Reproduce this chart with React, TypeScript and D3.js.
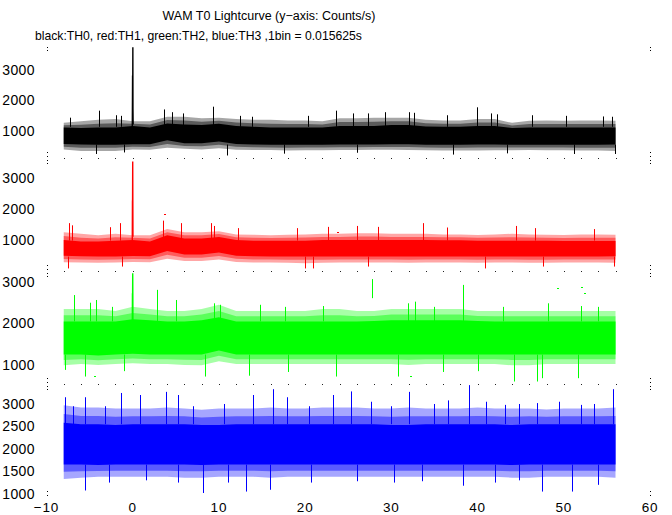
import React from "react";
import * as d3 from "d3";

// ---------- data ----------
// envelope samples every 2 s, t = -8 .. 56
const tSamples = d3.range(-8, 57, 2);
const xTickValues = [-10, 0, 10, 20, 30, 40, 50, 60];
const minorTickTimes = d3.range(-8, 57, 2);

// TH0 (black)
const th0CoreHi = [1100,1080,1100,1100,1150,1100,1230,1200,1180,1220,1150,1120,1100,1100,1100,1100,1150,1150,1150,1180,1180,1130,1120,1120,1150,1150,1080,1100,1100,1100,1100,1100,1100];
const th0CoreLo = [560,540,530,530,550,550,680,580,580,640,560,540,530,530,530,530,540,540,540,550,550,530,530,530,540,540,530,530,530,530,530,530,540];
const th0EdgeHi = [1250,1300,1350,1380,1300,1300,1450,1450,1400,1420,1380,1350,1350,1330,1330,1300,1400,1400,1420,1420,1420,1350,1330,1330,1380,1380,1250,1320,1330,1320,1330,1330,1320];
const th0EdgeLo = [380,330,330,330,380,370,430,400,380,420,370,360,360,340,350,350,360,360,370,370,360,350,340,340,340,350,350,360,350,350,340,340,330];
const th0SpikesHi: [number, number][] = [[-7.3,1420],[-3.9,1650],[-1.9,1500],[-1.4,1480],[3.6,1690],[4.6,1600],[5.8,1560],[9.3,1780],[12.5,1480],[13.8,1450],[20.3,1480],[23.6,1650],[25.5,1560],[27.3,1560],[29.3,1600],[32.0,1600],[32.6,1580],[36.4,1500],[39.9,1760],[41.5,1560],[42.2,1530],[46.3,1500],[50.2,1480],[54.5,1460],[55.6,1450]];
const th0SpikesLo: [number, number][] = [[-4.3,230],[-1.0,280],[10.9,180],[17.6,240],[26.0,270],[37.1,210],[43.4,250],[51.2,230],[55.9,230]];
const th0Burst: [number, number][] = [[-0.05,1100],[-0.03,2000],[-0.016,2800],[0,2200],[0.016,3730],[0.03,1700],[0.05,1200]];
const th0Ticks = [1000, 2000, 3000];
const th0Domain = [98, 3803];

// TH1 (red)
const th1CoreHi = [1000,950,950,980,1000,950,1150,1050,1050,1100,1000,980,980,980,980,1000,1000,1000,1000,1000,1000,1000,990,990,980,980,980,980,980,970,970,970,970];
const th1CoreLo = [500,480,470,470,490,480,650,540,540,600,500,480,470,470,470,470,470,470,470,470,470,470,470,470,470,470,470,470,470,470,470,470,480];
const th1EdgeHi = [1250,1200,1150,1200,1150,1150,1350,1250,1250,1280,1180,1170,1150,1170,1180,1200,1200,1220,1220,1200,1200,1200,1180,1180,1160,1180,1200,1180,1170,1160,1180,1180,1170];
const th1EdgeLo = [290,280,270,280,300,290,400,330,330,380,300,280,280,270,260,270,280,280,280,280,270,280,280,280,270,280,280,270,270,280,280,280,270];
const th1SpikesHi: [number, number][] = [[-7.4,1540],[-7.0,1470],[-2.6,1410],[-1.5,1540],[3.5,1620],[5.6,1540],[9.1,1540],[9.4,1450],[12.2,1380],[19.0,1380],[22.6,1420],[26.0,1450],[28.5,1420],[33.7,1540],[36.5,1400],[44.4,1450],[46.7,1380],[53.5,1350]];
const th1SpikesLo: [number, number][] = [[-7.5,90],[-1.3,150],[20.0,90],[20.9,90],[27.3,150],[40.9,90],[47.6,150],[55.8,150]];
const th1Burst: [number, number][] = [[-0.05,1000],[-0.03,2230],[-0.016,2300],[0,3510],[0.016,2000],[0.03,1100]];
const th1Dots: [number, number][] = [[3.6,1838],[23.7,1270]];
const th1Ticks = [1000, 2000, 3000];
const th1Domain = [8, 3624];

// TH2 (green)
const th2CoreHi = [2050,2050,2050,2050,2100,2080,2050,2050,2080,2150,2050,2050,2050,2050,2050,2050,2050,2050,2060,2080,2080,2080,2080,2080,2060,2050,2050,2050,2050,2050,2050,2050,2050];
const th2CoreLo = [1250,1250,1230,1250,1270,1250,1250,1250,1250,1350,1250,1250,1250,1250,1250,1250,1250,1250,1250,1250,1250,1250,1250,1250,1250,1250,1250,1250,1250,1250,1250,1250,1250];
const th2EdgeHi = [2350,2350,2350,2300,2400,2350,2300,2300,2350,2450,2300,2300,2300,2300,2300,2350,2350,2300,2300,2350,2350,2350,2350,2350,2300,2300,2300,2300,2300,2300,2300,2300,2300];
const th2EdgeLo = [990,1020,1000,1020,1040,1020,1020,1000,990,1090,1020,1020,1020,1020,1020,1020,1020,1020,1020,1020,1000,1020,1020,1020,1020,1020,990,990,1020,1020,1020,1020,1020];
const th2SpikesHi: [number, number][] = [[-6.8,2685],[-5.0,2500],[-4.3,2566],[-2.4,2400],[2.8,2810],[5.0,2566],[9.4,2486],[10.1,2450],[14.8,2450],[17.7,2400],[22.1,2420],[31.9,2486],[32.7,2526],[35.0,2400],[38.3,2930],[43.0,2400],[48.2,2486],[52.0,2420],[54.0,2400]];
const th2SpikesLo: [number, number][] = [[-7.8,880],[-5.5,720],[-1.0,850],[8.4,720],[13.5,740],[18.0,830],[23.6,720],[30.8,720],[36.0,830],[40.0,850],[44.2,600],[46.9,600],[47.5,680],[51.6,680]];
const th2Burst: [number, number][] = [[-0.05,1900],[-0.03,2730],[-0.016,2490],[0,3210],[0.016,2600],[0.03,1900]];
const th2Segments: [number, number, number][] = [[27.8,2610,3070]];
const th2Dots: [number, number][] = [[49.2,2850],[52.0,2870],[52.4,2740],[-4.5,730],[32.2,730]];
const th2Ticks = [1000, 2000, 3000];
const th2Domain = [540, 3265];

// TH3 (blue)
const th3CoreHi = [2580,2550,2550,2530,2550,2550,2550,2550,2530,2530,2550,2550,2550,2550,2550,2550,2550,2550,2550,2530,2530,2550,2550,2550,2550,2550,2530,2550,2550,2550,2550,2550,2550];
const th3CoreLo = [1650,1650,1640,1650,1650,1650,1650,1650,1640,1650,1650,1650,1650,1650,1650,1650,1650,1650,1650,1650,1650,1650,1650,1650,1650,1650,1640,1650,1650,1650,1650,1650,1650];
const th3EdgeHi = [2970,2920,2920,2900,2900,2900,2920,2900,2870,2900,2900,2900,2920,2900,2900,2920,2920,2920,2900,2900,2920,2900,2900,2900,2920,2900,2900,2900,2880,2900,2900,2900,2920];
const th3EdgeLo = [1330,1360,1380,1380,1380,1380,1380,1360,1360,1380,1380,1380,1360,1380,1380,1380,1380,1380,1380,1380,1380,1380,1380,1380,1380,1380,1360,1360,1380,1380,1380,1380,1360];
const th3SpikesHi: [number, number][] = [[-7.8,3150],[-6.9,2950],[-5.5,3150],[-3.2,2950],[-1.4,3245],[0.9,3200],[3.9,3270],[5.2,3200],[7.0,2950],[10.6,3000],[13.9,3200],[16.3,3330],[17.9,3150],[20.5,2950],[23.2,3200],[25.3,3280],[27.6,3050],[30.0,2950],[32.1,3270],[35.0,3000],[36.6,3080],[39.0,3420],[41.0,3050],[43.2,2980],[44.8,3000],[46.9,3020],[49.5,3050],[52.0,2980],[53.5,3000],[55.7,3330]];
const th3SpikesLo: [number, number][] = [[-5.5,1074],[-2.8,1250],[1.5,1300],[5.3,1250],[8.1,1018],[11.0,1250],[13.1,1050],[15.9,1090],[20.7,1250],[26.0,1280],[30.3,1250],[33.5,1280],[38.3,1180],[42.0,1250],[44.8,1300],[47.5,1050],[51.0,1050],[54.0,1200]];
const th3Ticks = [1000, 1500, 2000, 2500, 3000];
const th3Domain = [929, 3445];

const titleText = "WAM T0 Lightcurve (y\u2212axis: Counts/s)";
const subtitleText = "black:TH0, red:TH1, green:TH2, blue:TH3 ,1bin = 0.015625s";

// ---------- layout ----------
const W = 672;
const H = 515;
const panelTops = [45, 158, 271, 384];
const panelH = 113;
const FONT = "'Liberation Sans', Arial, Helvetica, sans-serif";

type Series = {
  color: string;
  coreHi: number[]; coreLo: number[]; edgeHi: number[]; edgeLo: number[];
  spikesHi: [number, number][]; spikesLo: [number, number][];
  burst: [number, number][];
  dots: [number, number][];
  segments: [number, number, number][];
  ticks: number[]; domain: number[];
};

const seriesList: Series[] = [
  { color: "#000000", coreHi: th0CoreHi, coreLo: th0CoreLo, edgeHi: th0EdgeHi, edgeLo: th0EdgeLo, spikesHi: th0SpikesHi, spikesLo: th0SpikesLo, burst: th0Burst, dots: [], segments: [], ticks: th0Ticks, domain: th0Domain },
  { color: "#ff0000", coreHi: th1CoreHi, coreLo: th1CoreLo, edgeHi: th1EdgeHi, edgeLo: th1EdgeLo, spikesHi: th1SpikesHi, spikesLo: th1SpikesLo, burst: th1Burst, dots: th1Dots, segments: [], ticks: th1Ticks, domain: th1Domain },
  { color: "#00ff00", coreHi: th2CoreHi, coreLo: th2CoreLo, edgeHi: th2EdgeHi, edgeLo: th2EdgeLo, spikesHi: th2SpikesHi, spikesLo: th2SpikesLo, burst: th2Burst, dots: th2Dots, segments: th2Segments, ticks: th2Ticks, domain: th2Domain },
  { color: "#0000ff", coreHi: th3CoreHi, coreLo: th3CoreLo, edgeHi: th3EdgeHi, edgeLo: th3EdgeLo, spikesHi: th3SpikesHi, spikesLo: th3SpikesLo, burst: [], dots: [], segments: [], ticks: th3Ticks, domain: th3Domain },
];

const x = d3.scaleLinear().domain([-10, 60]).range([46.5, 650]);
const px = (t: number) => Math.round(x(t)) + 0.5;

function Panel({ s, i }: { s: Series; i: number }) {
  const top = panelTops[i];
  const bottom = top + panelH;
  const y = d3.scaleLinear().domain(s.domain).range([bottom, top]);

  const band = (hi: number[], lo: number[]) =>
    d3.area<number>()
      .x((t) => x(t))
      .y0((_, k) => y(lo[k]))
      .y1((_, k) => y(hi[k]))
      .curve(d3.curveLinear)(tSamples) || "";

  // inner half of each fringe is denser than the outer half
  const midHi = s.coreHi.map((v, k) => (v + s.edgeHi[k]) / 2);
  const midLo = s.coreLo.map((v, k) => (v + s.edgeLo[k]) / 2);

  const baseHi = y(d3.median(s.coreHi) as number);
  const baseLo = y(d3.median(s.coreLo) as number);
  const burstLine = s.burst.length
    ? d3.line<[number, number]>().x((d) => x(d[0])).y((d) => y(d[1]))(s.burst) || ""
    : "";
  const xl = Math.round(x(-10));
  const xr = Math.round(x(60));

  return (
    <g>
      <path d={band(s.edgeHi, s.edgeLo)} fill={s.color} fillOpacity={0.35} />
      <path d={band(midHi, midLo)} fill={s.color} fillOpacity={0.45} />
      <path d={band(s.coreHi, s.coreLo)} fill={s.color} />
      {s.spikesHi.map(([t, v], k) => (
        <line key={"h" + k} x1={px(t)} x2={px(t)} y1={baseHi} y2={y(v)} stroke={s.color} strokeWidth={1} />
      ))}
      {s.spikesLo.map(([t, v], k) => (
        <line key={"l" + k} x1={px(t)} x2={px(t)} y1={baseLo} y2={y(v)} stroke={s.color} strokeWidth={1} />
      ))}
      {s.segments.map(([t, a, b], k) => (
        <line key={"s" + k} x1={px(t)} x2={px(t)} y1={y(a)} y2={y(b)} stroke={s.color} strokeWidth={1} />
      ))}
      {s.dots.map(([t, v], k) => (
        <rect key={"d" + k} x={Math.round(x(t))} y={Math.round(y(v))} width={2} height={1} fill={s.color} />
      ))}
      {burstLine && <path d={burstLine} fill="none" stroke={s.color} strokeWidth={1.4} />}
      {[xl, xr].map((xx) => (
        <g key={"m" + xx} fill="#000">
          <rect x={xx} y={top + 2} width={1} height={1} />
          <rect x={xx} y={top + 5} width={1} height={1} />
          <rect x={xx} y={bottom - 6} width={1} height={1} />
          <rect x={xx} y={bottom - 2} width={1} height={1} />
        </g>
      ))}
      {i < 3 &&
        minorTickTimes.map((t) => (
          <rect key={"t" + t} x={Math.round(x(t))} y={bottom} width={1} height={1} fill="#222" />
        ))}
      {s.ticks.map((v) => (
        <text key={"y" + v} x={35} y={y(v)} dy="0.36em" textAnchor="end" fontSize={14} letterSpacing={0.4} fontFamily={FONT} fill="#000">
          {v}
        </text>
      ))}
    </g>
  );
}

export default function App() {
  return (
    <svg width={W} height={H} viewBox={`0 0 ${W} ${H}`} style={{ position: "absolute", left: 0, top: 0, background: "#fff" }}>
      <rect x={0} y={0} width={W} height={H} fill="#fff" />
      <text x={269} y={20} textAnchor="middle" fontSize={12.5} fontFamily={FONT} fill="#000">
        {titleText}
      </text>
      <text x={35} y={40} textAnchor="start" fontSize={12.2} fontFamily={FONT} fill="#000">
        {subtitleText}
      </text>
      {seriesList.map((s, i) => (
        <Panel key={i} s={s} i={i} />
      ))}
      {xTickValues.map((t) => (
        <text key={t} x={x(t)} y={512} textAnchor="middle" fontSize={13.5} letterSpacing={0.8} fontFamily={FONT} fill="#000">
          {t < 0 ? "\u2212" + Math.abs(t) : String(t)}
        </text>
      ))}
    </svg>
  );
}
